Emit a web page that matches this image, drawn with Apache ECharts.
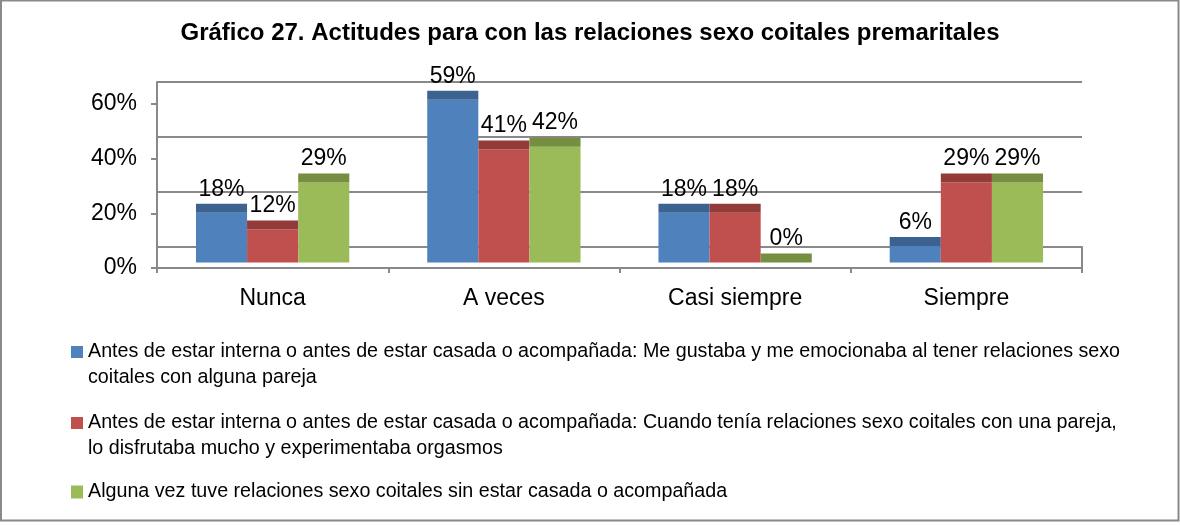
<!DOCTYPE html>
<html>
<head>
<meta charset="utf-8">
<script src="https://cdn.jsdelivr.net/npm/echarts@6/dist/echarts.min.js"></script>
<style>
  html, body { margin: 0; padding: 0; background: #fff; }
  #chart { width: 1180px; height: 525px; }
</style>
</head>
<body>
<div id="chart"></div>
<script>
var titleText = 'Gráfico 27. Actitudes para con las relaciones sexo coitales premaritales'
var categories = ['Nunca', 'A veces', 'Casi siempre', 'Siempre']
var seriesNames = [
  'Antes de estar interna o antes de estar casada o acompañada: Me gustaba y me emocionaba al tener relaciones sexo\ncoitales con alguna pareja',
  'Antes de estar interna o antes de estar casada o acompañada: Cuando tenía relaciones sexo coitales con una pareja,\nlo disfrutaba mucho y experimentaba orgasmos',
  'Alguna vez tuve relaciones sexo coitales sin estar casada o acompañada'
]
var gustaba = [18, 59, 18, 6]
var disfrutaba = [12, 41, 18, 29]
var algunaVez = [29, 42, 0, 29]
var yTicks = [0, 20, 40, 60]

var frontColors = ['#4F81BD', '#C0504D', '#9BBB59']
var capColors = ['#3C6390', '#923B39', '#768E41']
var gridColor = '#898989'
var regular = '"Liberation Sans", Arial, sans-serif'

var chart = echarts.init(document.getElementById('chart'))

function toPairs(arr) {
  return arr.map(function (v, i) { return [i, v] })
}

// front face + darker top face, like the excel 3d columns
function barRenderer(idx) {
  return function (params, api) {
    var cat = api.value(0)
    var val = api.value(1)
    var top = api.coord([cat, val])
    var base = api.coord([cat, 0])
    var band = api.size([1, 0])[0]
    var w = band * 0.221
    var x = top[0] + (idx - 1) * w - w / 2
    return {
      type: 'group',
      children: [
        { type: 'rect', shape: { x: x, y: top[1], width: w, height: base[1] - top[1] }, style: { fill: frontColors[idx] } },
        { type: 'rect', shape: { x: x, y: top[1] - 9, width: w, height: 9 }, style: { fill: capColors[idx] } },
        {
          type: 'text', x: x + w / 2, y: top[1] - 12,
          style: { text: val + '%', fill: '#000', fontSize: 23, fontFamily: regular, align: 'center', verticalAlign: 'bottom' }
        }
      ]
    }
  }
}

var valueData = [gustaba, disfrutaba, algunaVez]
var series = valueData.map(function (arr, i) {
  return {
    name: seriesNames[i],
    type: 'custom',
    xAxisIndex: 3,
    yAxisIndex: 3,
    itemStyle: { color: frontColors[i] },
    encode: { x: 0, y: 1 },
    data: toPairs(arr),
    renderItem: barRenderer(i),
    z: 5
  }
})

var topIcon = 'path://M0,0L12,0L12,12L0,12Z M0,38L12,38Z'
var legendText = { fontFamily: regular, fontSize: 19.7, lineHeight: 26, color: '#000' }

var option = {
  animation: false,
  title: {
    text: titleText,
    left: 'center',
    top: 21,
    padding: 0,
    textStyle: { fontFamily: regular, fontWeight: 'bold', fontSize: 24, color: '#000' }
  },
  legend: [
    {
      orient: 'vertical',
      left: 71,
      top: 339,
      padding: 0,
      itemWidth: 12,
      itemHeight: 38,
      itemGap: 19,
      data: [
        { name: seriesNames[0], icon: topIcon },
        { name: seriesNames[1], icon: topIcon }
      ],
      textStyle: legendText
    },
    {
      orient: 'vertical',
      left: 71,
      top: 479,
      padding: 0,
      itemWidth: 12,
      itemHeight: 13,
      data: [{ name: seriesNames[2], icon: 'rect' }],
      textStyle: legendText
    }
  ],
  graphic: [
    {
      type: 'rect',
      shape: { x: 1, y: 0.5, width: 1177.5, height: 520 },
      style: { fill: 'none', stroke: '#8a8a8a', lineWidth: 2 },
      silent: true
    }
  ],
  grid: [
    // back wall
    { left: 157, right: 98, top: 82, height: 165 },
    // floor
    { left: 157, right: 98, top: 247, height: 21 },
    // front value axis
    { left: 157, right: 98, top: 104, height: 164 },
    // bars
    { left: 157, right: 98, top: 97, height: 165.5 }
  ],
  xAxis: [
    { gridIndex: 0, type: 'category', data: categories, show: false },
    {
      gridIndex: 1, type: 'category', data: categories,
      axisLine: { show: true, lineStyle: { color: gridColor, width: 2 } },
      axisTick: { show: true, length: 5, lineStyle: { color: gridColor, width: 2 } },
      axisLabel: { margin: 19, fontFamily: regular, fontSize: 23, color: '#000' }
    },
    { gridIndex: 2, type: 'category', data: categories, show: false },
    { gridIndex: 3, type: 'category', data: categories, show: false }
  ],
  yAxis: [
    {
      gridIndex: 0, type: 'value', min: yTicks[0], max: yTicks[yTicks.length - 1], interval: 20,
      axisLine: { show: true, lineStyle: { color: gridColor, width: 2 } },
      axisTick: { show: false },
      axisLabel: { show: false },
      splitLine: { show: true, lineStyle: { color: gridColor, width: 2 } }
    },
    {
      gridIndex: 1, type: 'value', position: 'right', min: 0, max: 1,
      axisLine: { show: true, lineStyle: { color: gridColor, width: 2 } },
      axisTick: { show: false },
      axisLabel: { show: false },
      splitLine: { show: false }
    },
    {
      gridIndex: 2, type: 'value', min: yTicks[0], max: yTicks[yTicks.length - 1], interval: 20,
      axisLine: { show: true, lineStyle: { color: gridColor, width: 2 } },
      axisTick: { show: true, length: 6, lineStyle: { color: gridColor, width: 2 } },
      axisLabel: { margin: 20, fontFamily: regular, fontSize: 23, color: '#000', formatter: '{value}%' },
      splitLine: { show: false }
    },
    { gridIndex: 3, type: 'value', min: 0, max: 60, show: false, splitLine: { show: false } }
  ],
  series: series
}

chart.setOption(option)
</script>
</body>
</html>
